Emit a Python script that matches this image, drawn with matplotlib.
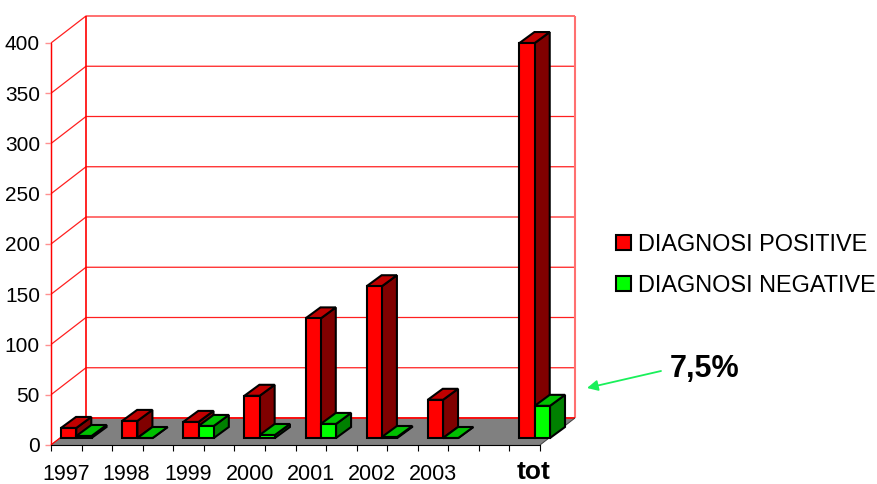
import matplotlib
matplotlib.use("Agg")
import matplotlib.pyplot as plt

labels = ["1997", "1998", "1999", "2000", "2001", "2002", "2003", "tot"]
positive = [10, 17, 16, 42, 119, 151, 38, 393]
negative = [2, 0, 12, 3, 14, 1, 0, 32]
y_ticks = [0, 50, 100, 150, 200, 250, 300, 350, 400]

# layout: slot of each group along the floor, one slot = one tick
slots = [0, 2, 4, 6, 8, 10, 12, 15]
label_pos = [0.49, 2.45, 4.5, 6.5, 8.5, 10.5, 12.5, 15.8]

W, H = 877, 484
X0, X1 = 51, 540
Y0, Y1 = 445, 43
PX_X = (X1 - X0) / 16.0
PX_Y = (Y0 - Y1) / 400.0

plt.rcParams["font.family"] = ["Liberation Sans", "DejaVu Sans"]

fig = plt.figure(figsize=(W / 100, H / 100), dpi=100)
ax = fig.add_axes([X0 / W, 1 - Y0 / H, (X1 - X0) / W, (Y0 - Y1) / H])
ax.set_xlim(0, 16)
ax.set_ylim(0, 400)
ax.patch.set_alpha(0)


def pt(x, v, dx=0, dy=0):
    # data point pushed back into the chart by an offset in pixels
    return x + dx / PX_X, v + dy / PX_Y


def poly(points, **kw):
    xs, ys = zip(*points)
    ax.fill(xs, ys, clip_on=False, **kw)


def line(points, **kw):
    xs, ys = zip(*points)
    ax.plot(xs, ys, clip_on=False, solid_capstyle="butt", **kw)


# floor
DX, DY = 35, 27
poly([pt(0, 0), pt(16, 0), pt(16, 0, DX, DY), pt(0, 0, DX, DY)], fc="#808080", ec="none", zorder=1)

# walls and gridlines
for v in y_ticks:
    line([pt(0, v), pt(0, v, DX, DY), pt(16, v, DX, DY)], color="#ff2020", lw=0.9, zorder=0.8)
line([pt(0, 0), pt(0, 400)], color="#ff0000", lw=1.0, zorder=0.9)
line([pt(0, 0, DX, DY), pt(0, 400, DX, DY)], color="#ff0000", lw=1.2, zorder=0.9)
line([pt(16, 0, DX, DY), pt(16, 400, DX, DY)], color="#ff7070", lw=1.5, zorder=0.9)
line([pt(0, 0, DX, DY), pt(16, 0, DX, DY)], color="#ff0000", lw=1.2, zorder=1.1)
line([pt(16, 0), pt(16, 0, DX, DY)], color="#404040", lw=0.7, zorder=1.1)
line([pt(0, 0), pt(0, 0, DX, DY)], color="#ff0000", lw=0.8, zorder=1.1)

# bars: gap and depth are pixel offsets from the front of the floor
GAP_X, GAP_Y = 10, 7
BD_X, BD_Y = 15, 11


def bar3d(x, w, v, front, top, side, z):
    a = pt(x, 0, GAP_X, GAP_Y)
    b = pt(x + w, 0, GAP_X, GAP_Y)
    c = pt(x + w, v, GAP_X, GAP_Y)
    d = pt(x, v, GAP_X, GAP_Y)
    off = lambda p: (p[0] + BD_X / PX_X, p[1] + BD_Y / PX_Y)
    edge = dict(ec="black", lw=1.5, joinstyle="miter", zorder=z)
    poly([b, off(b), off(c), c], fc=side, **edge)
    poly([d, c, off(c), off(d)], fc=top, **edge)
    poly([a, b, c, d], fc=front, **edge)


for i, s in enumerate(slots):
    z = 2 + i
    bar3d(s, 0.5, positive[i], "#ff0000", "#c00000", "#800000", z)
    bar3d(s + 0.5, 0.5, negative[i], "#00ff00", "#00c000", "#008000", z + 0.5)

# axes
for name in ["top", "right"]:
    ax.spines[name].set_visible(False)
ax.spines["left"].set_color("#ff0000")
ax.spines["bottom"].set_color("black")
ax.spines["bottom"].set_linewidth(0.8)
ax.set_yticks(y_ticks)
ax.tick_params(axis="y", color="#ff9090", length=4, width=1, labelsize=15, pad=4)
ax.set_xticks(range(17))
ax.set_xticklabels([])
ax.tick_params(axis="x", which="major", color="black", length=4.5, width=0.8)
ax.set_xticks(label_pos, minor=True)
ax.set_xticklabels(labels, minor=True)
ax.tick_params(axis="x", which="minor", length=0, labelsize=15.5, pad=14)
tot_label = ax.get_xticklabels(minor=True)[-1]
tot_label.set_fontweight("bold")
tot_label.set_fontsize(19)
tot_label.set_y(0.01)

# legend
fx = lambda px: px / W
fy = lambda py: 1 - py / H
for name, color, py in [("DIAGNOSI POSITIVE", "#ff0000", 242.5), ("DIAGNOSI NEGATIVE", "#00ff00", 283)]:
    fig.patches.append(plt.Rectangle((fx(615.5), fy(py + 7.5)), 15 / W, 15 / H, transform=fig.transFigure,
                                     fc=color, ec="black", lw=1.5))
    fig.text(fx(638), fy(py + 2), name, fontsize=16.9, va="center", ha="left", color="black")

# share of negatives in the total
ax.annotate("", xy=pt(16, 0, 47, 57), xytext=pt(16, 0, 121, 74),
            annotation_clip=False,
            arrowprops=dict(arrowstyle="-|>", color="#19f05a", lw=1.3, mutation_scale=16, shrinkA=0, shrinkB=0))
fig.text(fx(670), fy(369), "7,5%", fontsize=22, fontweight="bold", va="center", ha="left", color="black")

fig.savefig("out.png", dpi=100)
